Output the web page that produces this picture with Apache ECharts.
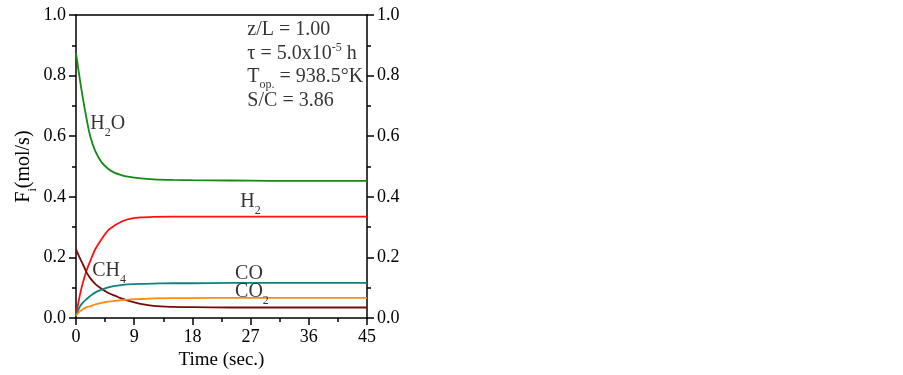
<!DOCTYPE html>
<html><head><meta charset="utf-8">
<script src="https://cdn.jsdelivr.net/npm/echarts@6/dist/echarts.min.js"></script>
<style>html,body{margin:0;padding:0;background:#fff}#c{width:903px;height:375px}</style>
</head><body><div id="c"></div>
<script>
const time = [0, 0.6, 1.1, 1.65, 2.2, 3, 4, 5, 6, 7, 8, 10, 12, 15, 18, 24, 30, 36, 45];
const h2o  = [0.874, 0.787, 0.721, 0.656, 0.600, 0.550, 0.513, 0.492, 0.479, 0.472, 0.467, 0.461, 0.458, 0.456, 0.455, 0.454, 0.453, 0.453, 0.453];
const h2   = [0.010, 0.076, 0.120, 0.158, 0.188, 0.228, 0.262, 0.290, 0.306, 0.318, 0.326, 0.332, 0.334, 0.335, 0.335, 0.335, 0.335, 0.335, 0.335];
const ch4  = [0.227, 0.198, 0.176, 0.150, 0.132, 0.112, 0.096, 0.083, 0.074, 0.065, 0.058, 0.047, 0.040, 0.037, 0.036, 0.035, 0.035, 0.035, 0.035];
const co   = [0.008, 0.038, 0.052, 0.063, 0.073, 0.085, 0.094, 0.101, 0.106, 0.109, 0.111, 0.113, 0.114, 0.115, 0.115, 0.116, 0.116, 0.116, 0.116];
const co2  = [0.008, 0.022, 0.030, 0.036, 0.039, 0.045, 0.050, 0.054, 0.057, 0.059, 0.061, 0.063, 0.065, 0.066, 0.066, 0.067, 0.067, 0.067, 0.067];
const xTicks = [0, 9, 18, 27, 36, 45];
const yTicks = [0.0, 0.2, 0.4, 0.6, 0.8, 1.0];

const curveLabels = [
  {at: [2.2, 0.64], text: '{n|H}{s|2}{n|O}'},
  {at: [25.4, 0.385], text: '{n|H}{s|2}'},
  {at: [2.5, 0.155], text: '{n|CH}{s|4}'},
  {at: [24.6, 0.145], text: '{n|CO}'},
  {at: [24.6, 0.088], text: '{n|CO}{s|2}'}
];
const infoLabels = [
  {at: [26.5, 0.951], text: '{n|z/L = 1.00}'},
  {at: [26.5, 0.873], text: '{n|τ = 5.0x10}{p|-5}{n| h}'},
  {at: [26.5, 0.795], text: '{n|T}{o|op.}{n| = 938.5°K}'},
  {at: [26.5, 0.718], text: '{n|S/C = 3.86}'}
];

const FONT = 'Liberation Serif';
const rich = {
  n: {fontFamily: FONT, fontSize: 20, color: '#000', lineHeight: 24},
  s: {fontFamily: FONT, fontSize: 12, color: '#000', lineHeight: 12, verticalAlign: 'bottom', padding: [0, 0, -3, 0]},
  p: {fontFamily: FONT, fontSize: 12, color: '#000', lineHeight: 12, verticalAlign: 'top'},
  o: {fontFamily: FONT, fontSize: 12, color: '#000', lineHeight: 12, verticalAlign: 'bottom', padding: [0, 0, -2, 0]}
};

function lineSeries(name, data, color) {
  return {
    name, type: 'line', smooth: 0.3, symbol: 'none',
    data: time.map((t, i) => [t, data[i]]),
    lineStyle: {color, width: 1.8}, itemStyle: {color}, z: 3
  };
}
function labelSeries(list) {
  return {
    type: 'scatter', symbolSize: 0, silent: true, z: 5,
    data: list.map(l => ({value: l.at, label: {formatter: l.text}})),
    label: {show: true, position: 'right', distance: 0, rich}
  };
}

const axisCommon = {
  axisLine: {show: true, onZero: false, lineStyle: {color: '#000', width: 1.5}},
  axisTick: {show: true, inside: false, length: 7, lineStyle: {color: '#000', width: 1.5}},
  minorTick: {show: true, splitNumber: 2, length: 4, lineStyle: {color: '#000', width: 1.5}},
  splitLine: {show: false},
  axisLabel: {fontFamily: FONT, fontSize: 18, color: '#000', margin: 10}
};

const chart = echarts.init(document.getElementById('c'));
chart.setOption({
  animation: false,
  backgroundColor: '#fff',
  grid: {left: 76, right: 536, top: 15, bottom: 55},
  xAxis: [
    Object.assign({}, axisCommon, {
      type: 'value', min: 0, max: 45, interval: 9, position: 'bottom',
      name: 'Time (sec.)', nameLocation: 'middle', nameGap: 30,
      nameTextStyle: {fontFamily: FONT, fontSize: 19, color: '#000'},
      axisLabel: Object.assign({}, axisCommon.axisLabel, {formatter: v => xTicks.includes(v) ? String(v) : ''})
    }),
    {type: 'value', min: 0, max: 45, position: 'top',
     axisLine: {show: true, onZero: false, lineStyle: {color: '#000', width: 1.5}},
     axisTick: {show: false}, minorTick: {show: false}, axisLabel: {show: false}, splitLine: {show: false}}
  ],
  yAxis: [
    Object.assign({}, axisCommon, {
      type: 'value', min: 0, max: 1, interval: 0.2, position: 'left',
      name: '{n|F}{s|i}{n|(mol/s)}', nameLocation: 'middle', nameGap: 40, nameRotate: 90,
      nameTextStyle: {rich},
      axisLabel: Object.assign({}, axisCommon.axisLabel, {formatter: v => v.toFixed(1)})
    }),
    Object.assign({}, axisCommon, {
      type: 'value', min: 0, max: 1, interval: 0.2, position: 'right',
      axisLabel: Object.assign({}, axisCommon.axisLabel, {formatter: v => v.toFixed(1)})
    })
  ],
  series: [
    lineSeries('H2O', h2o, '#138a13'),
    lineSeries('H2', h2, '#ff1010'),
    lineSeries('CH4', ch4, '#7a0a0a'),
    lineSeries('CO', co, '#108080'),
    lineSeries('CO2', co2, '#ff8a10'),
    labelSeries(curveLabels),
    labelSeries(infoLabels)
  ]
});
</script></body></html>
